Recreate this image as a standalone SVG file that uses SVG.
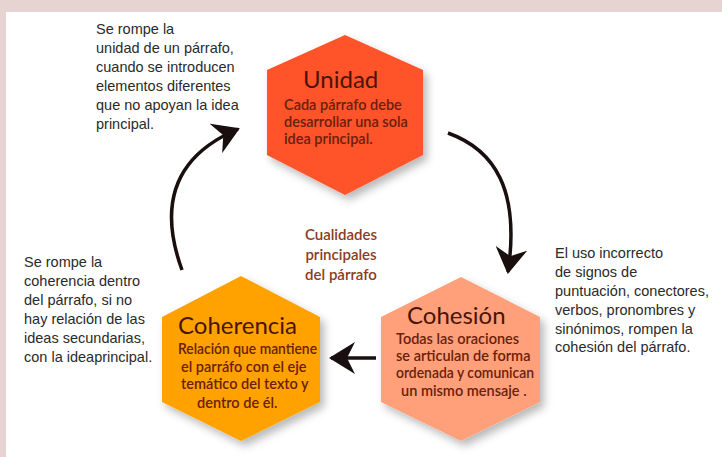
<svg xmlns="http://www.w3.org/2000/svg" width="722" height="457" viewBox="0 0 722 457">
<defs>
<filter id="sh" x="-20%" y="-20%" width="150%" height="150%">
<feDropShadow dx="4" dy="5" stdDeviation="4" flood-color="#000" flood-opacity="0.28"/>
</filter>
<marker id="ah" viewBox="0 0 26 32" refX="24" refY="16" markerWidth="26" markerHeight="32" markerUnits="userSpaceOnUse" orient="auto">
<path d="M0,0 L26,16 L0,32 L8,16 z" fill="#1a0f0f"/>
</marker>
</defs>
<style>
.side{font-family:"Liberation Sans","Open Sans",sans-serif;font-size:14.5px;fill:#2a2a2a}
.title{font-family:Lato,"Open Sans",sans-serif;font-size:24px;fill:#4a1406}
.body{font-family:Lato,"Open Sans",sans-serif;font-size:14.5px;font-weight:600;fill:#6a200c}
.center{font-family:Lato,"Open Sans",sans-serif;font-size:15px;font-weight:600;fill:#8a3c22}
.conn{fill:none;stroke:#1a0f0f;stroke-width:3.5;marker-end:url(#ah)}
</style>
<rect x="0" y="0" width="722" height="457" fill="#e8d3d3"/>
<rect x="6" y="12" width="716" height="445" fill="#ffffff"/>

<g id="connectors">
<path class="conn" d="M182,270 C162,215 165,160 238,129"/>
<path class="conn" d="M448,133 C495,150 520,190 508,272"/>
<path class="conn" d="M376,358 L331,358"/>
</g>

<g id="unidad">
<polygon points="345,35 423,70 423,155 345,195 267,155 267,70" fill="#ff522a" filter="url(#sh)"/>
<text class="title" x="303" y="88">Unidad</text>
<text class="body" x="284" y="110">Cada párrafo debe</text>
<text class="body" x="284" y="127">desarrollar una sola</text>
<text class="body" x="284" y="144">idea principal.</text>
</g>

<g id="cohesion">
<polygon points="461,277 540,317 540,402 461,441 381,402 381,317" fill="#ffa07a" filter="url(#sh)"/>
<text class="title" x="407" y="324">Cohesión</text>
<text class="body" x="396" y="344">Todas las oraciones</text>
<text class="body" x="396" y="361">se articulan de  forma</text>
<text class="body" x="396" y="378" textLength="138" lengthAdjust="spacingAndGlyphs">ordenada y comunican</text>
<text class="body" x="401" y="396">un mismo mensaje .</text>
</g>

<g id="coherencia">
<polygon points="241,276 320,317 320,402 241,441 162,402 162,317" fill="#ffa200" filter="url(#sh)"/>
<text class="title" x="178" y="334">Coherencia</text>
<text class="body" x="178" y="354" textLength="139" lengthAdjust="spacingAndGlyphs">Relación que mantiene</text>
<text class="body" x="181" y="372">el parráfo  con el eje</text>
<text class="body" x="181" y="389">temático del texto y</text>
<text class="body" x="197" y="408">dentro de él.</text>
</g>

<g id="center-label">
<text class="center" text-anchor="middle" x="341" y="240">Cualidades</text>
<text class="center" text-anchor="middle" x="341" y="260">principales</text>
<text class="center" text-anchor="middle" x="341" y="280">del párrafo</text>
</g>

<g id="note-unidad">
<text class="side" x="96" y="34">Se rompe la</text>
<text class="side" x="96" y="53">unidad de un párrafo,</text>
<text class="side" x="96" y="72">cuando se introducen</text>
<text class="side" x="96" y="91">elementos diferentes</text>
<text class="side" x="96" y="110">que no apoyan la idea</text>
<text class="side" x="96" y="129">principal.</text>
</g>

<g id="note-coherencia">
<text class="side" x="24" y="267">Se rompe la</text>
<text class="side" x="24" y="286">coherencia dentro</text>
<text class="side" x="24" y="305">del párrafo, si no</text>
<text class="side" x="24" y="324">hay relación de las</text>
<text class="side" x="24" y="343">ideas secundarias,</text>
<text class="side" x="24" y="362">con la ideaprincipal.</text>
</g>

<g id="note-cohesion">
<text class="side" x="555" y="258">El uso incorrecto</text>
<text class="side" x="555" y="277">de signos de</text>
<text class="side" x="555" y="296">puntuación, conectores,</text>
<text class="side" x="555" y="315">verbos, pronombres y</text>
<text class="side" x="555" y="334">sinónimos, rompen la</text>
<text class="side" x="555" y="352">cohesión del párrafo.</text>
</g>
</svg>
